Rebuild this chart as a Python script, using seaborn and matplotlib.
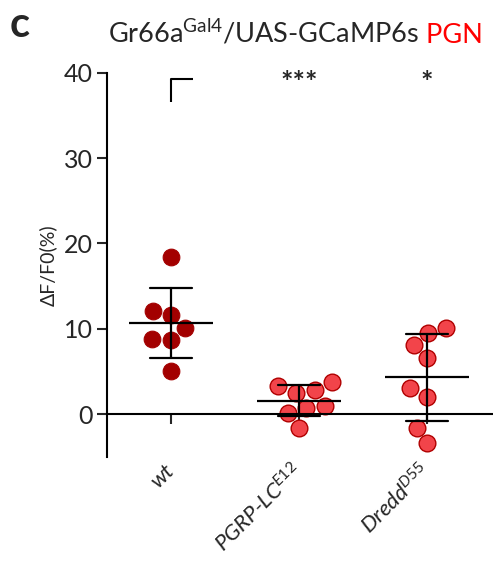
import matplotlib
matplotlib.use("Agg")
import matplotlib.pyplot as plt
import seaborn as sns
import pandas as pd

sns.set_style("white")
plt.rcParams["font.family"] = ["Lato", "DejaVu Sans"]
plt.rcParams["mathtext.fontset"] = "custom"
plt.rcParams["mathtext.rm"] = "Lato"
plt.rcParams["mathtext.it"] = "Lato:italic"
plt.rcParams["mathtext.bf"] = "Lato:bold"

# ---- data ----
genotypes = ["wt", r"PGRP-LC$^{\mathit{E12}}$", r"Dredd$^{\mathit{D55}}$"]
wt_vals = [18.4, 12.1, 11.6, 10.1, 8.8, 8.7, 5.1]
pgrp_vals = [3.7, 3.25, 2.85, 2.5, 0.95, 0.75, 0.15, -1.6]
dredd_vals = [10.1, 9.45, 8.1, 6.6, 3.0, 2.05, -1.6, -3.4]
stars = ["", "***", "*"]
yticks = [0, 10, 20, 30, 40]
# control marker (bracket) above wt
bracket_x = [0, 0, 0.17]
bracket_y = [36.6, 39.3, 39.3]

df = pd.DataFrame({
    "genotype": [genotypes[0]] * len(wt_vals) + [genotypes[1]] * len(pgrp_vals)
                + [genotypes[2]] * len(dredd_vals),
    "dff": wt_vals + pgrp_vals + dredd_vals,
})

fig = plt.figure(figsize=(4.93, 5.62), dpi=100)
ax = fig.add_axes([0.217, 0.1874, 0.783, 0.6832])

sns.swarmplot(data=df[df.genotype == genotypes[0]], x="genotype", y="dff",
              order=genotypes, color="#A30000", edgecolor="#A30000",
              linewidth=0.8, size=12, ax=ax, zorder=2)
sns.swarmplot(data=df[df.genotype != genotypes[0]], x="genotype", y="dff",
              order=genotypes, color="#F2444A", edgecolor="#B00000",
              linewidth=1.0, size=12, ax=ax, zorder=2)

# mean +/- SD
sns.pointplot(data=df, x="genotype", y="dff", order=genotypes, errorbar="sd",
              capsize=0.33, color="black", linestyle="none", marker="_",
              markersize=60, markeredgewidth=1.6, err_kws={"linewidth": 1.6},
              ax=ax, zorder=5)

ax.set_xlim(-0.5, 2.516)
ax.set_ylim(-5, 40)
ax.set_yticks(yticks)
ax.set_xlabel("")
ax.set_ylabel("ΔF/F0(%)", fontsize=14, labelpad=5)

for side in ["top", "right"]:
    ax.spines[side].set_visible(False)
ax.spines["bottom"].set_position(("data", 0))
for side in ["left", "bottom"]:
    ax.spines[side].set_linewidth(1.5)
    ax.spines[side].set_color("black")

ax.tick_params(axis="y", direction="out", length=7, width=1.5, labelsize=18, pad=3,
               left=True)
ax.tick_params(axis="x", direction="out", length=7, width=1.5, labelsize=16, pad=32,
               bottom=True)
for lab in ax.get_xticklabels():
    lab.set_rotation(45)
    lab.set_ha("right")
    lab.set_va("center")
    lab.set_rotation_mode("anchor")
    lab.set_fontstyle("italic")

ax.plot(bracket_x, bracket_y, color="black", lw=1.5, solid_capstyle="butt", clip_on=False)
for i, s in enumerate(stars):
    if s:
        ax.text(i, 38.8, s, ha="center", va="center", fontsize=21, fontweight="bold")

fig.text(10 / 493, 1 - 6 / 562, "c", fontsize=30, fontweight="bold", va="top", ha="left")
t = fig.text(108 / 493, 1 - 43 / 562, r"Gr66a$^{\mathrm{Gal4}}$/UAS-GCaMP6s",
             fontsize=19.5, va="baseline", ha="left")
ax.annotate(" PGN", xy=(1, 0), xycoords=t, va="bottom", ha="left",
            fontsize=19.5, color="#FF0000")

fig.savefig("out.png", dpi=100)
